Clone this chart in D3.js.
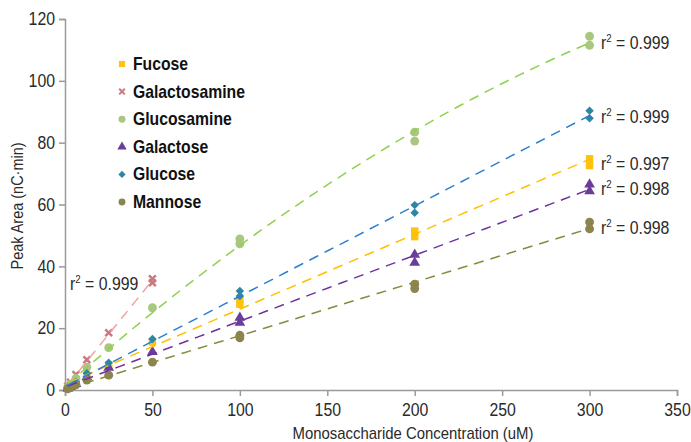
<!DOCTYPE html>
<html lang="en">
<head>
<meta charset="UTF-8">
<title>Monosaccharide calibration</title>
<script src="https://d3js.org/d3.v7.min.js"></script>
<style>
  body { margin: 0; background: #fff; }
  svg { display: block; font-family: "Liberation Sans", Arial, sans-serif; }
  .axis path, .axis line { stroke: #9a9a9a; stroke-width: 1.5; }
  .axis text { fill: #2a2a2a; font-size: 18px; font-family: "Liberation Sans", Arial, sans-serif; }
</style>
</head>
<body>
<script>
// concentrations (uM), one entry per measured point
var concFull = [1.5625, 3.125, 6.25, 12.5, 25, 50, 100, 100, 200, 200, 300, 300];
var concGalN = [1.5625, 3.125, 6.25, 12.5, 25, 50, 50];

// peak areas (nC*min)
var fucose        = [0.6, 1.2, 2.3, 4.8, 8.0, 15.5, 29.3, 27.7, 51.4, 49.6, 74.8, 72.6];
var galactosamine = [1.2, 2.5, 5.0, 9.8, 18.5, 36.0, 34.7];
var glucosamine   = [0.9, 1.9, 3.7, 7.4, 13.7, 26.6, 48.9, 47.3, 83.4, 80.5, 114.4, 111.5];
var galactose     = [0.5, 1.0, 2.0, 4.2, 7.2, 12.3, 23.4, 21.8, 43.8, 41.2, 66.5, 64.3];
var glucose       = [0.7, 1.3, 2.6, 5.4, 8.8, 16.5, 32.0, 30.4, 59.8, 57.3, 90.3, 87.9];
var mannose       = [0.4, 0.8, 1.7, 3.2, 4.8, 9.0, 17.7, 16.9, 34.2, 32.8, 54.3, 52.1];

var seriesNames = ['Fucose', 'Galactosamine', 'Glucosamine', 'Galactose', 'Glucose', 'Mannose'];
var r2Labels = ['0.997', '0.999', '0.999', '0.998', '0.999', '0.998'];

var xTicks = [0, 50, 100, 150, 200, 250, 300, 350];
var yTicks = [0, 20, 40, 60, 80, 100, 120];

// rot: extra rotation of the symbol (glucose uses a square turned 45deg)
var series = [
  {name: 'Fucose', x: concFull, y: fucose, shape: d3.symbolSquare, size: 55, rot: 0, mark: '#ffc20e', line: '#ffc000', order: 1, r2: r2Labels[0], lab: [601, 170]},
  {name: 'Galactosamine', x: concGalN, y: galactosamine, shape: d3.symbolX, size: 32, rot: 0, mark: '#c9797f', line: '#f4a3a3', order: 1, r2: r2Labels[1], lab: [70, 290]},
  {name: 'Glucosamine', x: concFull, y: glucosamine, shape: d3.symbolCircle, size: 62, rot: 0, mark: '#a9c77e', line: '#8fd14f', order: 2, r2: r2Labels[2], lab: [601, 49]},
  {name: 'Galactose', x: concFull, y: galactose, shape: d3.symbolTriangle, size: 50, rot: 0, mark: '#6a3d9a', line: '#7030a0', order: 1, r2: r2Labels[3], lab: [601, 195]},
  {name: 'Glucose', x: concFull, y: glucose, shape: d3.symbolSquare, size: 36, rot: 45, mark: '#2f86a3', line: '#2b7fd0', order: 1, r2: r2Labels[4], lab: [601, 123]},
  {name: 'Mannose', x: concFull, y: mannose, shape: d3.symbolCircle, size: 62, rot: 0, mark: '#8c8450', line: '#8a8a3c', order: 1, r2: r2Labels[5], lab: [601, 234]}
];

// least squares polynomial fit (order 1 or 2), like a spreadsheet trendline
function polyfit(xs, ys, order) {
  var n = order + 1;
  var A = [], b = [];
  for (var i = 0; i < n; i++) {
    A.push([]);
    for (var j = 0; j < n; j++) A[i].push(d3.sum(xs, function(x){ return Math.pow(x, i + j); }));
    b.push(d3.sum(xs, function(x, k){ return Math.pow(x, i) * ys[k]; }));
  }
  // gauss elimination
  for (var c = 0; c < n; c++) {
    for (var r = c + 1; r < n; r++) {
      var f = A[r][c] / A[c][c];
      for (var k = c; k < n; k++) A[r][k] -= f * A[c][k];
      b[r] -= f * b[c];
    }
  }
  var coef = new Array(n);
  for (var r2 = n - 1; r2 >= 0; r2--) {
    var s = b[r2];
    for (var k2 = r2 + 1; k2 < n; k2++) s -= A[r2][k2] * coef[k2];
    coef[r2] = s / A[r2][r2];
  }
  return function(x){ return coef.reduce(function(acc, cf, p){ return acc + cf * Math.pow(x, p); }, 0); };
}

var w = 691, h = 442;
var m = {top: 19, left: 65, bottom: 52, right: 14};
var squeeze = 0.88; // the original uses a condensed face

var xScale = d3.scaleLinear().domain([0, 350]).range([m.left, w - m.right]);
var yScale = d3.scaleLinear().domain([0, 120]).range([h - m.bottom, m.top]);

var svg = d3.select('body').append('svg').attr('width', w).attr('height', h);

// condensed text: a group placed at x,y and squeezed horizontally
function ctext(parent, x, y, k) {
  return parent.append('g')
    .attr('transform', 'translate(' + x + ',' + y + ') scale(' + k + ',1)')
    .append('text');
}

var xAxis = d3.axisBottom(xScale).tickValues(xTicks).tickSize(6).tickSizeOuter(6).tickPadding(7);
var yAxis = d3.axisLeft(yScale).tickValues(yTicks).tickSize(6).tickSizeOuter(6).tickPadding(4);

var gx = svg.append('g').attr('class', 'axis').attr('transform', 'translate(0,' + (h - m.bottom) + ')').call(xAxis);
var gy = svg.append('g').attr('class', 'axis').attr('transform', 'translate(' + m.left + ',0)').call(yAxis);
gx.selectAll('text').attr('transform', 'scale(' + squeeze + ',1)');
gy.selectAll('text').attr('x', -10 / squeeze).attr('transform', 'scale(' + squeeze + ',1)');

// points
series.forEach(function(s){
  var stroked = s.shape === d3.symbolX;
  svg.append('g').selectAll('path')
    .data(s.x.map(function(x, i){ return [x, s.y[i]]; }))
    .enter().append('path')
    .attr('d', d3.symbol().type(s.shape).size(s.size))
    .attr('transform', function(d){ return 'translate(' + xScale(d[0]) + ',' + yScale(d[1]) + ') rotate(' + s.rot + ')'; })
    .attr('fill', stroked ? 'none' : s.mark)
    .attr('stroke', stroked ? s.mark : 'none')
    .attr('stroke-width', 2.5);
});

// trend lines
series.forEach(function(s){
  var fit = polyfit(s.x, s.y, s.order);
  var x0 = d3.min(s.x), x1 = d3.max(s.x);
  var pts = d3.range(0, 41).map(function(i){ var x = x0 + (x1 - x0) * i / 40; return [x, fit(x)]; });
  svg.append('path')
    .datum(pts)
    .attr('d', d3.line().x(function(d){ return xScale(d[0]); }).y(function(d){ return yScale(d[1]); }))
    .attr('fill', 'none')
    .attr('stroke', s.line)
    .attr('stroke-width', 1.5)
    .attr('stroke-dasharray', '10,7');
});

// r squared labels
series.forEach(function(s){
  var t = ctext(svg, s.lab[0], s.lab[1], squeeze)
    .attr('font-size', '18px').attr('fill', '#2a2a2a');
  t.append('tspan').text('r');
  t.append('tspan').attr('font-size', '11px').attr('dy', -7).text('2');
  t.append('tspan').attr('dy', 7).text(' = ' + s.r2);
});

// legend
var legend = svg.append('g');
seriesNames.forEach(function(name, i){
  var s = series[i];
  var stroked = s.shape === d3.symbolX;
  var ly = 64 + i * 27.6;
  legend.append('path')
    .attr('d', d3.symbol().type(s.shape).size(stroked ? 22 : (s.rot ? 26 : 38)))
    .attr('transform', 'translate(122,' + ly + ') rotate(' + s.rot + ')')
    .attr('fill', stroked ? 'none' : s.mark)
    .attr('stroke', stroked ? s.mark : 'none')
    .attr('stroke-width', 2);
  ctext(legend, 133, ly + 6, 0.9)
    .attr('font-size', '17.5px').attr('font-weight', 'bold').attr('fill', '#111')
    .text(name);
});

// axis titles
svg.append('text')
  .attr('transform', 'translate(23,' + 206 + ') rotate(-90)')
  .attr('text-anchor', 'middle').attr('font-size', '17px').attr('fill', '#2a2a2a')
  .attr('textLength', 127).attr('lengthAdjust', 'spacingAndGlyphs')
  .text('Peak Area (nC·min)');
svg.append('text')
  .attr('x', 413).attr('y', 439)
  .attr('text-anchor', 'middle').attr('font-size', '17px').attr('fill', '#2a2a2a')
  .attr('textLength', 241).attr('lengthAdjust', 'spacingAndGlyphs')
  .text('Monosaccharide Concentration (uM)');
</script>
</body>
</html>
